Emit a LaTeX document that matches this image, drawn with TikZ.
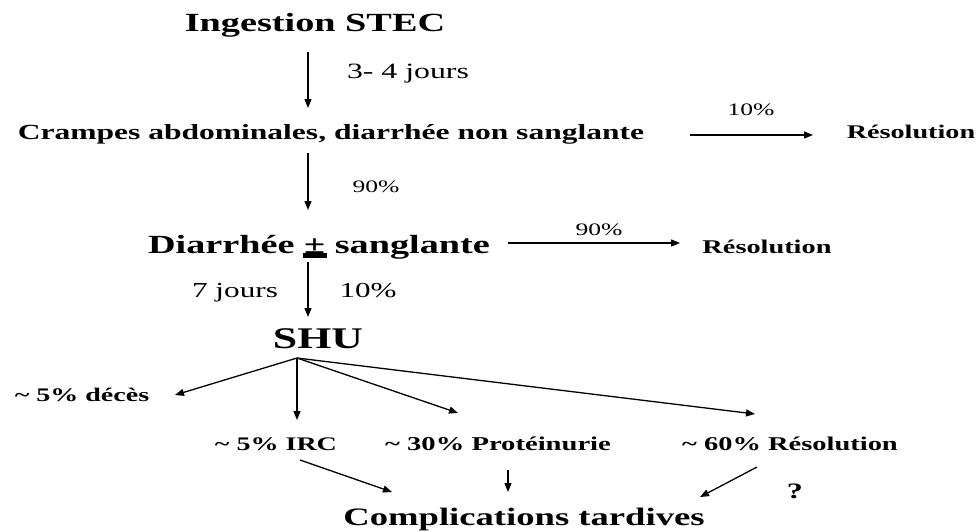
\documentclass[tikz,border=0pt]{standalone}
\usepackage{fontspec}
\setmainfont{Liberation Serif}[FakeStretch=1.46]
\usetikzlibrary{arrows.meta,calc}
\begin{document}
\begin{tikzpicture}[x=1pt,y=-1pt]
\tikzset{
  lbl/.style={inner sep=0pt, anchor=base, font=\fontsize{#1}{#1}\selectfont},
  blbl/.style={inner sep=0pt, anchor=base, font=\fontsize{#1}{#1}\selectfont\bfseries},
  arr/.style={line width=1.3pt, -{Triangle[length=9pt,width=7pt]}},
}
\useasboundingbox (0,0) rectangle (979,531);
% nodes
\node[blbl=26.2] (ing) at (315,31) {Ingestion STEC};
\node[lbl=21.8] (l34) at (408,78) {3- 4 jours};
\node[blbl=21.6] (cr) at (331,139) {Crampes abdominales, diarrhée non sanglante};
\node[lbl=17.5] (l10a) at (751,115) {10\%};
\node[blbl=19.3] (res1) at (911,138) {Résolution};
\node[lbl=17.5] (l90a) at (376,192) {90\%};
\node[blbl=26.2] (dia) at (319,253) {Diarrhée ± sanglante};
\node[lbl=17.5] (l90b) at (599,235) {90\%};
\node[blbl=19.4] (res2) at (767,253) {Résolution};
\node[lbl=21.4] (l7j) at (235,297) {7 jours};
\node[lbl=21.3] (l10b) at (368,297) {10\%};
\node[blbl=30] (shu) at (318,348) {SHU};
\node[blbl=19.2] (deces) at (82,401) {\textasciitilde{} 5\% décès};
\node[blbl=19.2] (irc) at (276,450) {\textasciitilde{} 5\% IRC};
\node[blbl=19.6] (prot) at (498,450) {\textasciitilde{} 30\% Protéinurie};
\node[blbl=19.5] (res3) at (790,450) {\textasciitilde{} 60\% Résolution};
\node[blbl=22] (q) at (795,498) {?};
\node[blbl=25.1] (comp) at (524,525) {Complications tardives};
% thick underline of the plus-minus sign
\fill ($(dia.base)+(-16,0)$) rectangle ($(dia.base)+(8,5)$);
% fan origin below SHU
\coordinate (fan) at ($(shu.base)+(-21,10)$);
% connectors
\draw[arr] ($(ing.base)+(-7,21)$) -- ($(cr.base)+(-23,-31)$);
\draw[arr] ($(cr.base)+(-23,14)$) -- ($(dia.base)+(-11,-43)$);
\draw[arr] ($(dia.base)+(-11,9)$) -- ($(shu.base)+(-10,-31)$);
\draw[arr] ($(cr.base)+(359,-4)$) -- ($(res1.base)+(-98,-3)$);
\draw[arr] ($(dia.base)+(189,-10)$) -- ($(res2.base)+(-87,-10)$);
\draw[arr] (fan) -- ($(deces.base)+(93,-6)$);
\draw[arr] (fan) -- ($(irc.base)+(21,-30)$);
\draw[arr] (fan) -- ($(prot.base)+(-40,-37)$);
\draw[arr] (fan) -- ($(res3.base)+(-35,-36)$);
\draw[arr] ($(irc.base)+(24,10)$) -- ($(comp.base)+(-132,-33)$);
\draw[arr] ($(prot.base)+(10,20)$) -- ($(comp.base)+(-16,-33)$);
\draw[arr] ($(res3.base)+(-33,17)$) -- ($(comp.base)+(176,-28)$);
\end{tikzpicture}
\end{document}
